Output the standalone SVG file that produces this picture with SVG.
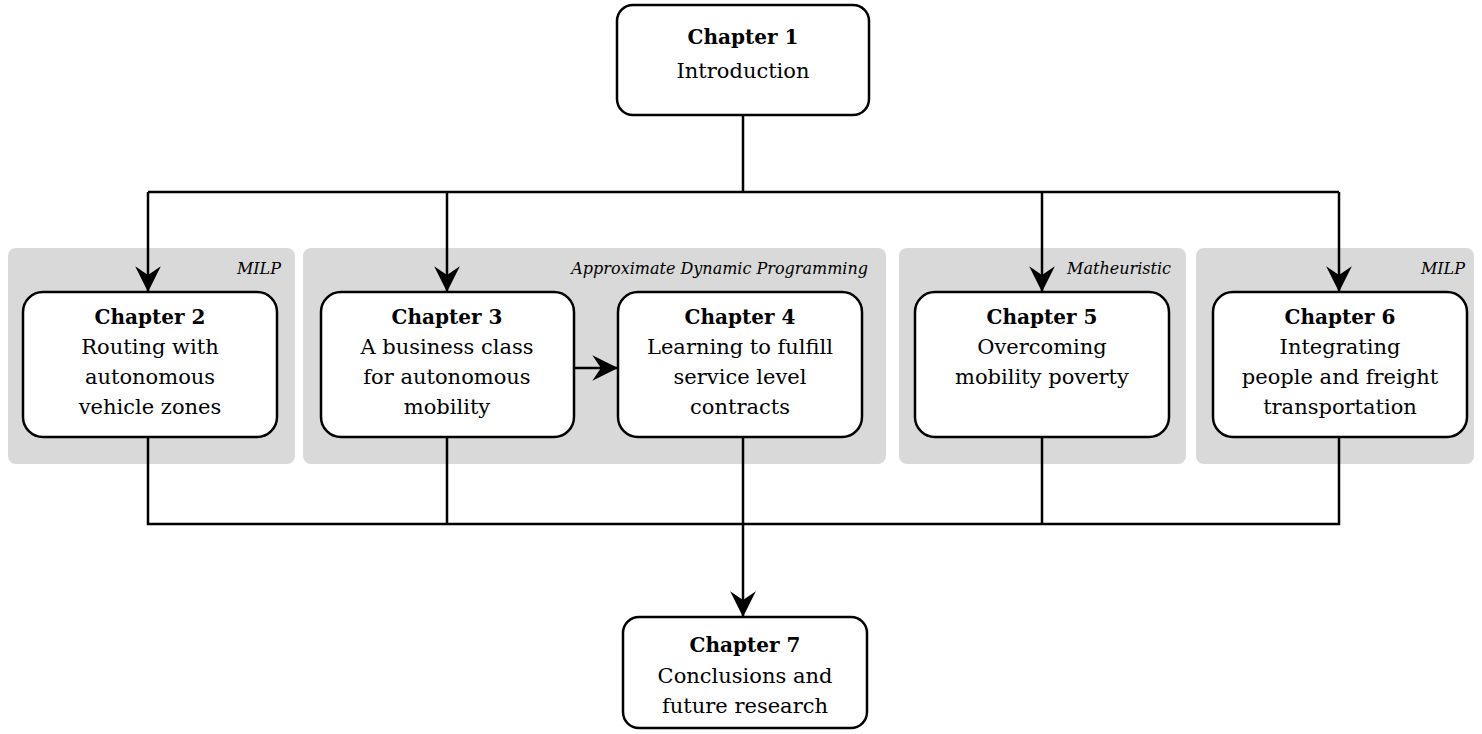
<svg xmlns="http://www.w3.org/2000/svg" width="1482" height="734" viewBox="0 0 1482 734">
<style>
.panel{fill:#d9d9d9;}
.box{fill:#fff;stroke:#000;stroke-width:2.5;}
.ln{fill:none;stroke:#000;stroke-width:2.5;}
text{font-family:"DejaVu Serif","Liberation Serif",serif;font-size:21px;fill:#000;text-anchor:middle;}
.b{font-weight:bold;font-size:20px;}
.lab{font-style:italic;font-size:16px;text-anchor:end;}
</style>
<defs>
<marker id="ah" markerUnits="userSpaceOnUse" markerWidth="30" markerHeight="30" viewBox="-26 -14 28 28" refX="0" refY="0" orient="auto">
<path d="M1,0 L-23,-12 L-15,0 L-23,12 Z" fill="#000"/>
</marker>
</defs>
<g id="panels">
<rect class="panel" x="8" y="248" width="287" height="216" rx="8"/>
<rect class="panel" x="303" y="248" width="583" height="216" rx="8"/>
<rect class="panel" x="899" y="248" width="287" height="216" rx="8"/>
<rect class="panel" x="1196" y="248" width="278" height="216" rx="8"/>
<text class="lab" x="281" y="274">MILP</text>
<text class="lab" x="868" y="274">Approximate Dynamic Programming</text>
<text class="lab" x="1171" y="274">Matheuristic</text>
<text class="lab" x="1465" y="274">MILP</text>
</g>
<g id="connectors">
<path class="ln" d="M743,115 V192 M148,192 H1339"/>
<path class="ln" d="M148,192 V291" marker-end="url(#ah)"/>
<path class="ln" d="M447,192 V291" marker-end="url(#ah)"/>
<path class="ln" d="M1042,192 V291" marker-end="url(#ah)"/>
<path class="ln" d="M1339,192 V291" marker-end="url(#ah)"/>
<path class="ln" d="M574,368 H617" marker-end="url(#ah)"/>
<path class="ln" d="M148,437 V524 H1339 V437 M447,437 V524 M1042,437 V524"/>
<path class="ln" d="M743,437 V616" marker-end="url(#ah)"/>
</g>
<g id="ch1">
<rect class="box" x="617" y="5" width="252" height="110" rx="16"/>
<text class="b" x="743" y="44">Chapter 1</text>
<text x="743" y="78">Introduction</text>
</g>
<g id="ch2">
<rect class="box" x="23" y="292" width="254" height="145" rx="20"/>
<text class="b" x="150" y="324">Chapter 2</text>
<text x="150" y="354">Routing with</text>
<text x="150" y="384">autonomous</text>
<text x="150" y="414">vehicle zones</text>
</g>
<g id="ch3">
<rect class="box" x="321" y="292" width="253" height="145" rx="20"/>
<text class="b" x="447" y="324">Chapter 3</text>
<text x="447" y="354">A business class</text>
<text x="447" y="384">for autonomous</text>
<text x="447" y="414">mobility</text>
</g>
<g id="ch4">
<rect class="box" x="618" y="292" width="244" height="145" rx="20"/>
<text class="b" x="740" y="324">Chapter 4</text>
<text x="740" y="354">Learning to fulfill</text>
<text x="740" y="384">service level</text>
<text x="740" y="414">contracts</text>
</g>
<g id="ch5">
<rect class="box" x="915" y="292" width="254" height="145" rx="20"/>
<text class="b" x="1042" y="324">Chapter 5</text>
<text x="1042" y="354">Overcoming</text>
<text x="1042" y="384">mobility poverty</text>
</g>
<g id="ch6">
<rect class="box" x="1213" y="292" width="254" height="145" rx="20"/>
<text class="b" x="1340" y="324">Chapter 6</text>
<text x="1340" y="354">Integrating</text>
<text x="1340" y="384">people and freight</text>
<text x="1340" y="414">transportation</text>
</g>
<g id="ch7">
<rect class="box" x="623" y="617" width="244" height="111" rx="16"/>
<text class="b" x="745" y="652">Chapter 7</text>
<text x="745" y="683">Conclusions and</text>
<text x="745" y="713">future research</text>
</g>
</svg>
